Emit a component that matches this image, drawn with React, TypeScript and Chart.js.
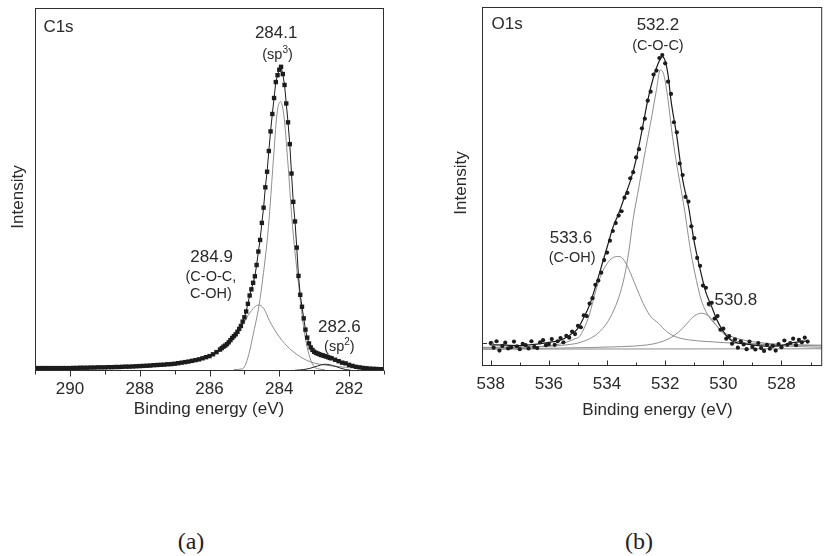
import React, { useEffect, useRef } from 'react';
import { Chart, registerables } from 'chart.js';

Chart.register(...registerables);

const FONT = '"Liberation Sans", Arial, Helvetica, sans-serif';
const INK = '#2a2a2a';
const AXIS = '#303030';
const GRAY = '#8e8e8e';

// ---------------- C1s (panel a) ----------------
const c1sEnergy = [
  291.0, 290.9, 290.8, 290.7, 290.6, 290.5, 290.4, 290.3, 290.2, 290.1,
  290.0, 289.9, 289.8, 289.7, 289.6, 289.5, 289.4, 289.3, 289.2, 289.1,
  289.0, 288.9, 288.8, 288.7, 288.6, 288.5, 288.4, 288.3, 288.2, 288.1,
  288.0, 287.9, 287.8, 287.7, 287.6, 287.5, 287.4, 287.3, 287.2, 287.1,
  287.0, 286.9, 286.8, 286.7, 286.6, 286.5, 286.4, 286.3, 286.2, 286.1,
  286.0, 285.9, 285.8, 285.7, 285.65, 285.6, 285.55, 285.5, 285.45, 285.4,
  285.35, 285.3, 285.25, 285.2, 285.15, 285.1, 285.05, 285.0, 284.95, 284.9,
  284.85, 284.8, 284.75, 284.7, 284.65, 284.6, 284.55, 284.5, 284.45, 284.4,
  284.35, 284.3, 284.25, 284.2, 284.15, 284.1, 284.05, 284.0, 283.95, 283.9,
  283.85, 283.8, 283.75, 283.7, 283.65, 283.6, 283.55, 283.5, 283.45, 283.4,
  283.35, 283.3, 283.25, 283.2, 283.15, 283.1, 283.05, 283.0, 282.95, 282.9,
  282.85, 282.8, 282.75, 282.7, 282.65, 282.6, 282.55, 282.5, 282.4, 282.3,
  282.2, 282.1, 282.0, 281.9, 281.8, 281.7, 281.6, 281.5, 281.4, 281.3,
  281.2, 281.1, 281.0,
];
const c1sCounts = [
  0.8, 0.8, 0.8, 0.8, 0.8, 0.8, 0.8, 0.8, 0.8, 0.8,
  0.8, 0.85, 0.85, 0.9, 0.9, 0.9, 0.95, 0.95, 1.0, 1.0,
  1.0, 1.05, 1.05, 1.1, 1.1, 1.15, 1.2, 1.2, 1.25, 1.3,
  1.35, 1.4, 1.45, 1.5, 1.6, 1.65, 1.7, 1.75, 1.85, 1.9,
  2.0, 2.15, 2.3, 2.45, 2.6, 2.8, 3.0, 3.2, 3.5, 3.8,
  4.1, 4.6, 5.2, 5.9, 6.3, 6.7, 7.0, 7.4, 7.9, 8.5,
  9.1, 9.6, 10.1, 10.8, 11.6, 12.4, 13.6, 14.8, 16.4, 18.5,
  20.8, 22.5, 24.3, 26.1, 29.2, 32.9, 36.1, 40.8, 45.0, 50.6,
  54.9, 60.6, 66.0, 70.8, 75.2, 79.6, 81.5, 83.0, 83.8, 81.8,
  78.8, 73.7, 68.5, 62.5, 54.4, 46.6, 41.2, 34.0, 26.2, 21.0,
  17.7, 14.5, 11.4, 9.2, 7.6, 6.5, 5.8, 5.3, 5.0, 4.8,
  4.6, 4.4, 4.3, 4.1, 4.0, 3.8, 3.6, 3.5, 3.1, 2.7,
  2.3, 2.1, 1.7, 1.4, 1.15, 1.0, 0.85, 0.75, 0.65, 0.6,
  0.55, 0.5, 0.5,
];
// sp3 component (284.1)
const c1sSp3Energy = [285.3, 285.05, 284.95, 284.85, 284.75, 284.6, 284.5, 284.31, 284.17, 284.07, 283.97, 283.87, 283.76, 283.62, 283.43, 283.29, 283.2, 283.1, 283.0, 282.9, 282.7];
const c1sSp3 = [0.4, 0.6, 2.2, 5.5, 10.0, 17.0, 23.5, 39.8, 58.1, 70.5, 74.2, 70.5, 58.1, 39.8, 22.3, 11.3, 6.5, 3.0, 1.2, 0.6, 0.4];
// C-O-C / C-OH component (284.9)
const c1sCoEnergy = [291.0, 290.0, 289.0, 288.0, 287.5, 287.0, 286.5, 286.0, 285.7, 285.5, 285.3, 285.14, 285.0, 284.9, 284.8, 284.7, 284.59, 284.45, 284.29, 284.15, 284.0, 283.85, 283.71, 283.5, 283.33, 283.1, 282.86, 282.5, 282.1, 281.5, 281.0];
const c1sCo = [0.8, 0.8, 0.95, 1.1, 1.45, 1.9, 2.6, 3.9, 5.5, 7.0, 9.2, 11.6, 13.5, 15.2, 16.6, 17.7, 18.2, 17.3, 14.0, 11.6, 9.4, 7.6, 6.2, 4.6, 3.5, 2.5, 1.9, 1.4, 1.0, 0.7, 0.6];
// sp2 component (282.6)
const c1sSp2Energy = [283.55, 283.3, 283.1, 282.9, 282.75, 282.67, 282.55, 282.4, 282.25, 282.1, 281.95];
const c1sSp2 = [0.2, 0.4, 0.8, 1.4, 1.8, 1.85, 1.7, 1.3, 0.8, 0.4, 0.2];

// ---------------- O1s (panel b) ----------------
const o1sEnergy = [
  538.0, 537.9, 537.8, 537.7, 537.6, 537.5, 537.4, 537.3, 537.2, 537.1,
  537.0, 536.9, 536.8, 536.7, 536.6, 536.5, 536.4, 536.3, 536.2, 536.1,
  536.0, 535.9, 535.8, 535.7, 535.6, 535.5, 535.4, 535.3, 535.2, 535.1,
  535.0, 534.9, 534.8, 534.7, 534.6, 534.5, 534.4, 534.3, 534.2, 534.1,
  534.0, 533.9, 533.8, 533.7, 533.6, 533.5, 533.4, 533.3, 533.2, 533.1,
  533.0, 532.9, 532.8, 532.7, 532.6, 532.5, 532.4, 532.3, 532.2, 532.1,
  532.0, 531.9, 531.8, 531.7, 531.6, 531.5, 531.4, 531.3, 531.2, 531.1,
  531.0, 530.9, 530.8, 530.7, 530.6, 530.5, 530.4, 530.3, 530.2, 530.1,
  530.0, 529.9, 529.8, 529.7, 529.6, 529.5, 529.4, 529.3, 529.2, 529.1,
  529.0, 528.9, 528.8, 528.7, 528.6, 528.5, 528.4, 528.3, 528.2, 528.1,
  528.0, 527.9, 527.8, 527.7, 527.6, 527.5, 527.4, 527.3, 527.2, 527.1,
];
const o1sCounts = [
  6.4, 5.1, 6.9, 4.3, 5.6, 6.5, 4.9, 5.2, 6.8, 5.5,
  4.7, 6.2, 5.8, 4.9, 6.9, 5.3, 5.0, 6.6, 7.2, 5.8,
  6.1, 7.5, 5.9, 6.9, 7.8, 6.6, 8.4, 7.9, 9.6, 8.9,
  11.2, 10.8, 14.1, 13.9, 17.4, 18.9, 22.6, 23.8, 26.0, 29.5,
  31.6, 34.9, 37.6, 39.8, 41.9, 43.1, 46.9, 48.2, 52.3, 54.0,
  58.1, 60.4, 66.2, 68.9, 73.9, 76.4, 81.2, 82.3, 85.8, 86.6,
  84.3, 79.2, 75.8, 67.9, 65.1, 56.4, 53.2, 47.1, 45.8, 38.9,
  35.6, 30.1, 27.9, 22.4, 21.8, 17.3, 17.6, 13.2, 13.9, 10.1,
  10.4, 7.6, 8.3, 6.2, 7.4, 5.1, 6.9, 6.0, 4.7, 6.8,
  5.3, 4.6, 6.4, 5.0, 4.2, 5.9, 4.8, 5.6, 4.3, 6.1,
  5.2, 7.1, 5.9, 6.4, 7.6, 5.8, 7.3, 6.6, 7.9, 6.8,
];
// fitted envelope
const o1sFitEnergy = [538.0, 537.5, 537.0, 536.5, 536.0, 535.6, 535.3, 535.0, 534.8, 534.6, 534.4, 534.2, 534.0, 533.8, 533.6, 533.4, 533.2, 533.0, 532.8, 532.6, 532.4, 532.2, 532.1, 532.0, 531.9, 531.8, 531.6, 531.4, 531.2, 531.0, 530.8, 530.6, 530.4, 530.2, 530.0, 529.8, 529.6, 529.2, 528.8, 528.4, 528.0, 527.6, 527.1];
const o1sFit = [5.9, 5.8, 5.7, 6.0, 6.6, 7.2, 8.5, 10.5, 13.5, 17.0, 22.0, 27.5, 33.0, 38.5, 42.5, 47.0, 51.5, 57.5, 65.5, 74.0, 80.5, 85.0, 86.2, 85.0, 81.0, 74.0, 64.0, 52.0, 44.5, 34.5, 27.0, 20.5, 16.5, 12.5, 9.6, 7.6, 6.6, 6.1, 5.7, 5.5, 5.7, 6.5, 7.0];
// C-O-C component (532.2)
const o1sCocEnergy = [538.3, 537.0, 536.0, 535.5, 535.0, 534.6, 534.3, 534.0, 533.8, 533.6, 533.4, 533.25, 533.1, 532.9, 532.75, 532.6, 532.45, 532.3, 532.17, 532.05, 531.9, 531.75, 531.6, 531.45, 531.32, 531.15, 530.98, 530.76, 530.6, 530.41, 530.1, 529.85, 529.4, 528.83, 528.0, 526.6];
const o1sCoc = [5.2, 5.3, 5.5, 5.8, 6.4, 7.6, 9.2, 12.0, 15.0, 19.0, 25.0, 32.0, 41.0, 50.0, 57.0, 63.5, 70.0, 77.0, 82.5, 81.2, 74.0, 64.0, 56.0, 49.0, 42.7, 33.3, 25.9, 18.4, 15.2, 12.8, 10.2, 8.7, 7.4, 6.6, 6.0, 5.6];
// C-OH component (533.6)
const o1sCohEnergy = [538.3, 537.0, 536.0, 535.63, 535.3, 535.1, 534.95, 534.8, 534.6, 534.38, 534.2, 534.0, 533.8, 533.59, 533.4, 533.2, 532.91, 532.7, 532.5, 532.23, 531.95, 531.66, 531.2, 530.53, 529.5, 528.83, 526.6];
const o1sCoh = [5.0, 5.2, 5.6, 6.1, 6.9, 7.6, 8.2, 10.3, 14.5, 21.2, 25.5, 28.5, 30.2, 30.5, 29.3, 26.0, 20.3, 16.5, 13.8, 11.9, 9.6, 8.2, 7.3, 6.8, 6.3, 6.1, 5.8];
// 530.8 component
const o1sLowEnergy = [538.3, 535.63, 533.5, 532.6, 532.23, 531.9, 531.66, 531.4, 531.2, 531.0, 530.76, 530.5, 530.3, 530.19, 530.0, 529.8, 529.62, 529.3, 528.83, 528.0, 526.6];
const o1sLow = [4.7, 5.0, 5.4, 5.9, 6.5, 7.5, 8.7, 10.5, 12.3, 13.9, 14.7, 13.9, 12.0, 10.8, 9.0, 7.8, 7.1, 6.5, 6.1, 5.6, 5.2];
// background
const o1sBaseEnergy = [538.3, 526.6];
const o1sBase = [4.7, 4.8];
// open markers
const o1sOpenEnergy = [537.98, 530.47];
const o1sOpen = [6.3, 17.2];
const o1sYTicks = [6.4];

type Note = { text: string; sup?: string; tail?: string; x: number; y: number; size: number; align?: CanvasTextAlign };

const c1sNotes: Note[] = [
  { text: 'C1s', x: 290.76, y: 94.8, size: 17, align: 'left' },
  { text: '284.1', x: 284.09, y: 93.1, size: 17 },
  { text: '(sp', sup: '3', tail: ')', x: 284.05, y: 87.0, size: 14.5 },
  { text: '284.9', x: 285.94, y: 31.4, size: 17 },
  { text: '(C-O-C,', x: 285.96, y: 25.9, size: 14.5 },
  { text: 'C-OH)', x: 285.96, y: 21.2, size: 14.5 },
  { text: '282.6', x: 282.28, y: 12.1, size: 17 },
  { text: '(sp', sup: '2', tail: ')', x: 282.28, y: 6.6, size: 14.5 },
];
const o1sNotes: Note[] = [
  { text: 'O1s', x: 537.97, y: 95.3, size: 17, align: 'left' },
  { text: '532.2', x: 532.25, y: 94.8, size: 17 },
  { text: '(C-O-C)', x: 532.25, y: 89.2, size: 14.5 },
  { text: '533.6', x: 535.24, y: 35.7, size: 17 },
  { text: '(C-OH)', x: 535.2, y: 30.1, size: 14.5 },
  { text: '530.8', x: 529.57, y: 18.4, size: 17 },
];

const pts = (xs: number[], ys: number[]) => xs.map((x, i) => ({ x, y: ys[i] }));

function drawNote(ctx: CanvasRenderingContext2D, n: Note, px: number, py: number) {
  ctx.fillStyle = INK;
  ctx.textBaseline = 'middle';
  const base = `${n.size}px ${FONT}`;
  if (!n.sup) {
    ctx.font = base;
    ctx.textAlign = n.align || 'center';
    ctx.fillText(n.text, px, py);
    return;
  }
  const small = `${Math.round(n.size * 0.68)}px ${FONT}`;
  ctx.font = base;
  const w1 = ctx.measureText(n.text).width;
  const w3 = ctx.measureText(n.tail || '').width;
  ctx.font = small;
  const w2 = ctx.measureText(n.sup).width;
  const x0 = px - (w1 + w2 + w3) / 2;
  ctx.textAlign = 'left';
  ctx.font = base;
  ctx.fillText(n.text, x0, py);
  ctx.font = small;
  ctx.fillText(n.sup, x0 + w1, py - n.size * 0.36);
  ctx.font = base;
  ctx.fillText(n.tail || '', x0 + w1 + w2, py);
}

type Decor = {
  notes: Note[];
  tickDir: number;
  majorLen: number;
  minorLen: number;
  yTicks: number[];
  xTitleX: number;
  xTitleY: number;
  yTitleX: number;
  yTitleY: number;
};

function makeDecor(cfg: Decor) {
  return {
    id: 'decor',
    afterDraw(chart: any) {
      const { ctx, chartArea: a } = chart;
      const xs = chart.scales.x;
      const ys = chart.scales.y;
      ctx.save();
      ctx.strokeStyle = AXIS;
      ctx.lineWidth = 1;
      ctx.strokeRect(a.left + 0.5, a.top + 0.5, a.right - a.left - 1, a.bottom - a.top - 1);
      for (const t of xs.ticks) {
        const v = t.value;
        if (Math.abs(v - Math.round(v)) > 1e-6) continue;
        if (v < xs.min - 1e-6 || v > xs.max + 1e-6) continue;
        const px = Math.round(xs.getPixelForValue(v)) + 0.5;
        const len = Math.round(v) % 2 === 0 ? cfg.majorLen : cfg.minorLen;
        ctx.beginPath();
        ctx.moveTo(px, a.bottom - 0.5);
        ctx.lineTo(px, a.bottom - 0.5 + cfg.tickDir * len);
        ctx.stroke();
      }
      for (const v of cfg.yTicks) {
        const py = Math.round(ys.getPixelForValue(v)) + 0.5;
        ctx.beginPath();
        ctx.moveTo(a.left, py);
        ctx.lineTo(a.left + 5, py);
        ctx.stroke();
      }
      ctx.fillStyle = INK;
      ctx.font = `17px ${FONT}`;
      ctx.textAlign = 'center';
      ctx.textBaseline = 'middle';
      ctx.fillText('Binding energy (eV)', cfg.xTitleX, cfg.xTitleY);
      ctx.save();
      ctx.translate(cfg.yTitleX, cfg.yTitleY);
      ctx.rotate(-Math.PI / 2);
      ctx.fillText('Intensity', 0, 0);
      ctx.restore();
      for (const n of cfg.notes) drawNote(ctx, n, xs.getPixelForValue(n.x), ys.getPixelForValue(n.y));
      ctx.restore();
    },
  };
}

function evenLabel(min: number, max: number) {
  return (v: any) => {
    const n = Number(v);
    if (n < min - 1e-6 || n > max + 1e-6) return '';
    if (Math.abs(n - Math.round(n)) > 1e-6) return '';
    return Math.round(n) % 2 === 0 ? String(Math.round(n)) : '';
  };
}

function baseOptions(min: number, max: number, pad: any, axisH: number, labelPad: number) {
  return {
    animation: false,
    responsive: false,
    maintainAspectRatio: false,
    events: [],
    layout: { padding: pad },
    plugins: { legend: { display: false }, tooltip: { enabled: false } },
    scales: {
      x: {
        type: 'linear',
        reverse: true,
        min,
        max,
        grid: { display: false },
        border: { display: false },
        ticks: {
          stepSize: 1,
          includeBounds: false,
          autoSkip: false,
          maxRotation: 0,
          minRotation: 0,
          padding: labelPad,
          color: INK,
          font: { family: FONT, size: 17 },
          callback: evenLabel(min, max),
        },
        afterFit: (s: any) => {
          s.height = axisH;
        },
      },
      y: { display: false, min: 0, max: 100 },
    },
  };
}

const line = (data: any[], color: string, width: number) => ({
  data,
  showLine: true,
  borderColor: color,
  borderWidth: width,
  pointRadius: 0,
  cubicInterpolationMode: 'monotone',
  fill: false,
});

function leftConfig(): any {
  return {
    type: 'scatter',
    data: {
      datasets: [
        {
          data: pts(c1sEnergy, c1sCounts),
          showLine: true,
          borderColor: '#1c1c1c',
          borderWidth: 1,
          tension: 0,
          pointStyle: 'rect',
          pointRadius: 3.1,
          pointBackgroundColor: '#1c1c1c',
          pointBorderWidth: 0,
        },
        line(pts(c1sSp2Energy, c1sSp2), '#222', 1),
        line(pts(c1sSp3Energy, c1sSp3), GRAY, 1),
        line(pts(c1sCoEnergy, c1sCo), GRAY, 1),
      ],
    },
    options: baseOptions(281, 291, { left: 35, top: 8, right: 26, bottom: 0 }, 59, 0),
    plugins: [
      makeDecor({
        notes: c1sNotes,
        tickDir: 1,
        majorLen: 6,
        minorLen: 4,
        yTicks: [],
        xTitleX: 209,
        xTitleY: 409,
        yTitleX: 18,
        yTitleY: 197,
      }),
    ],
  };
}

function rightConfig(): any {
  return {
    type: 'scatter',
    data: {
      datasets: [
        {
          data: pts(o1sEnergy, o1sCounts),
          showLine: false,
          pointStyle: 'circle',
          pointRadius: 2.1,
          pointBackgroundColor: '#1c1c1c',
          pointBorderWidth: 0,
        },
        {
          data: pts(o1sOpenEnergy, o1sOpen),
          showLine: false,
          pointStyle: 'circle',
          pointRadius: 2,
          pointBackgroundColor: '#ffffff',
          pointBorderColor: '#333',
          pointBorderWidth: 0.8,
        },
        line(pts(o1sFitEnergy, o1sFit), '#1c1c1c', 1.2),
        line(pts(o1sCocEnergy, o1sCoc), GRAY, 1),
        line(pts(o1sCohEnergy, o1sCoh), GRAY, 1),
        line(pts(o1sLowEnergy, o1sLow), GRAY, 1),
        line(pts(o1sBaseEnergy, o1sBase), GRAY, 1),
      ],
    },
    options: baseOptions(526.6, 538.3, { left: 42, top: 7, right: 1, bottom: 0 }, 64, 0),
    plugins: [
      makeDecor({
        notes: o1sNotes,
        tickDir: -1,
        majorLen: 5,
        minorLen: 3,
        yTicks: o1sYTicks,
        xTitleX: 217.5,
        xTitleY: 410,
        yTitleX: 21.7,
        yTitleY: 183,
      }),
    ],
  };
}

const caption = (cx: number): React.CSSProperties => ({
  position: 'absolute',
  left: cx,
  top: 541,
  transform: 'translate(-50%, -50%)',
  fontFamily: '"Liberation Serif", "Times New Roman", serif',
  fontSize: 24,
  lineHeight: 1,
  color: '#222',
  whiteSpace: 'nowrap',
});

export default function App() {
  const leftRef = useRef<HTMLCanvasElement>(null);
  const rightRef = useRef<HTMLCanvasElement>(null);

  useEffect(() => {
    const c1 = new Chart(leftRef.current as HTMLCanvasElement, leftConfig());
    const c2 = new Chart(rightRef.current as HTMLCanvasElement, rightConfig());
    return () => {
      c1.destroy();
      c2.destroy();
    };
  }, []);

  return (
    <div style={{ position: 'absolute', left: 0, top: 0, width: 827, height: 556, background: '#fff', overflow: 'hidden' }}>
      <canvas ref={leftRef} width={410} height={430} style={{ position: 'absolute', left: 0, top: 0 }} />
      <canvas ref={rightRef} width={387} height={430} style={{ position: 'absolute', left: 440, top: 0 }} />
      <div style={caption(191)}>(a)</div>
      <div style={caption(639)}>(b)</div>
    </div>
  );
}
